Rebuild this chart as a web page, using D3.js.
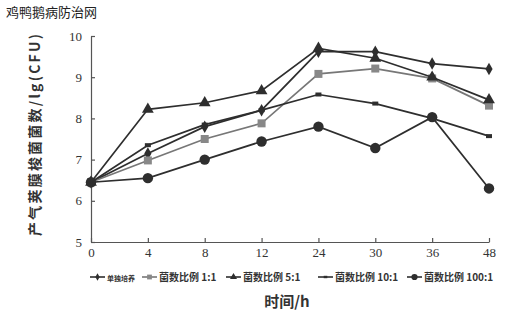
<!DOCTYPE html>
<html>
<head>
<meta charset="utf-8">
<script src="https://cdn.jsdelivr.net/npm/d3@7"></script>
<style>
  body { margin: 0; background: #fff; }
  svg { display: block; }
  .axis path, .axis line { stroke: #555; stroke-width: 1.2; }
  .axis text { font-family: "Liberation Serif", "Times New Roman", serif !important; font-size: 13px; fill: #333; }
</style>
</head>
<body>
<div id="chart"></div>
<script>
var hours = ["0", "4", "8", "12", "24", "30", "36", "48"];
var seriesNames = ["单独培养", "菌数比例 1:1", "菌数比例 5:1", "菌数比例 10:1", "菌数比例 100:1"];
var alone   = [6.45, 7.15, 7.8, 8.2, 9.62, 9.62, 9.33, 9.2];
var r1to1   = [6.45, 6.98, 7.5, 7.88, 9.08, 9.21, 8.97, 8.31];
var r5to1   = [6.45, 8.22, 8.38, 8.67, 9.7, 9.46, 9.0, 8.45];
var r10to1  = [6.45, 7.35, 7.85, 8.2, 8.58, 8.36, 8.0, 7.57];
var r100to1 = [6.45, 6.55, 7.0, 7.44, 7.8, 7.28, 8.03, 6.3];
var yTicks  = [5, 6, 7, 8, 9, 10];

var width = 531, height = 321;
var margin = {top: 36, right: 42, bottom: 79, left: 91};

var svg = d3.select("#chart").append("svg")
    .attr("width", width)
    .attr("height", height);

svg.append("text")
    .attr("x", 6).attr("y", 17)
    .style("font-family", "'Noto Sans CJK SC', sans-serif")
    .style("font-size", "13px")
    .style("fill", "#222")
    .text("鸡鸭鹅病防治网");

var x = d3.scalePoint()
    .domain(hours)
    .range([margin.left, width - margin.right]);

var y = d3.scaleLinear()
    .domain([5, 10])
    .range([height - margin.bottom, margin.top]);

svg.append("g")
    .attr("class", "axis")
    .attr("transform", "translate(0," + (height - margin.bottom) + ")")
    .call(d3.axisBottom(x).tickSize(-4).tickPadding(6).tickSizeOuter(0));

svg.append("g")
    .attr("class", "axis")
    .attr("transform", "translate(" + margin.left + ",0)")
    .call(d3.axisLeft(y).tickValues(yTicks).tickFormat(d3.format("d")).tickSize(-4).tickPadding(9).tickSizeOuter(0));

var series = [
  {name: seriesNames[0], values: alone,   shape: "diamond", color: "#2e2e2e", mcolor: "#2e2e2e", size: 45},
  {name: seriesNames[1], values: r1to1,   shape: "square",  color: "#777",    mcolor: "#888",    size: 64},
  {name: seriesNames[2], values: r5to1,   shape: "triangle",color: "#2e2e2e", mcolor: "#2e2e2e", size: 60},
  {name: seriesNames[3], values: r10to1,  shape: "dash",    color: "#2e2e2e", mcolor: "#2e2e2e", size: 0},
  {name: seriesNames[4], values: r100to1, shape: "circle",  color: "#2e2e2e", mcolor: "#2e2e2e", size: 85}
];

var symbolOf = {
  diamond: d3.symbolDiamond,
  square: d3.symbolSquare,
  triangle: d3.symbolTriangle,
  circle: d3.symbolCircle
};

function drawMarker(g, s, cx, cy, scale) {
  if (s.shape === "dash") {
    g.append("rect")
        .attr("x", cx - 3 * scale).attr("y", cy - 2 * scale)
        .attr("width", 6 * scale).attr("height", 4 * scale)
        .attr("fill", s.mcolor);
  } else {
    g.append("path")
        .attr("d", d3.symbol().type(symbolOf[s.shape]).size(s.size * scale * scale)())
        .attr("transform", "translate(" + cx + "," + cy + ")")
        .attr("fill", s.mcolor);
  }
}

var line = d3.line()
    .x(function (d, i) { return x(hours[i]); })
    .y(function (d) { return y(d); });

series.forEach(function (s) {
  var g = svg.append("g");
  g.append("path")
      .datum(s.values)
      .attr("d", line)
      .attr("fill", "none")
      .attr("stroke", s.color)
      .attr("stroke-width", 1.7);
  s.values.forEach(function (v, i) {
    drawMarker(g, s, x(hours[i]), y(v), 1);
  });
});

// legend
var legendX = [90, 142, 226, 318, 407];
var legendY = 277;
series.forEach(function (s, i) {
  var g = svg.append("g");
  var lx = legendX[i];
  g.append("line")
      .attr("x1", lx).attr("x2", lx + 15)
      .attr("y1", legendY).attr("y2", legendY)
      .attr("stroke", s.color).attr("stroke-width", 1.6);
  drawMarker(g, s, lx + 7.5, legendY, 0.6);
  g.append("text")
      .attr("x", lx + 17)
      .attr("y", legendY + 3.5)
      .style("font-family", "'Noto Sans CJK SC', sans-serif")
      .style("font-size", i === 0 ? "7px" : "10px")
      .style("font-weight", "bold")
      .style("fill", "#333")
      .text(s.name);
});

svg.append("text")
    .attr("x", 287).attr("y", 307)
    .attr("text-anchor", "middle")
    .style("font-family", "'Noto Sans CJK SC', sans-serif")
    .style("font-size", "15px")
    .style("font-weight", "bold")
    .style("fill", "#333")
    .text("时间/h");

svg.append("text")
    .attr("transform", "translate(40,135) rotate(-90)")
    .attr("text-anchor", "middle")
    .attr("textLength", 202)
    .attr("lengthAdjust", "spacing")
    .style("font-family", "'Noto Sans CJK SC', sans-serif")
    .style("font-size", "14px")
    .style("font-weight", "bold")
    .style("fill", "#333")
    .text("产气荚膜梭菌菌数/lg(CFU)");
</script>
</body>
</html>
